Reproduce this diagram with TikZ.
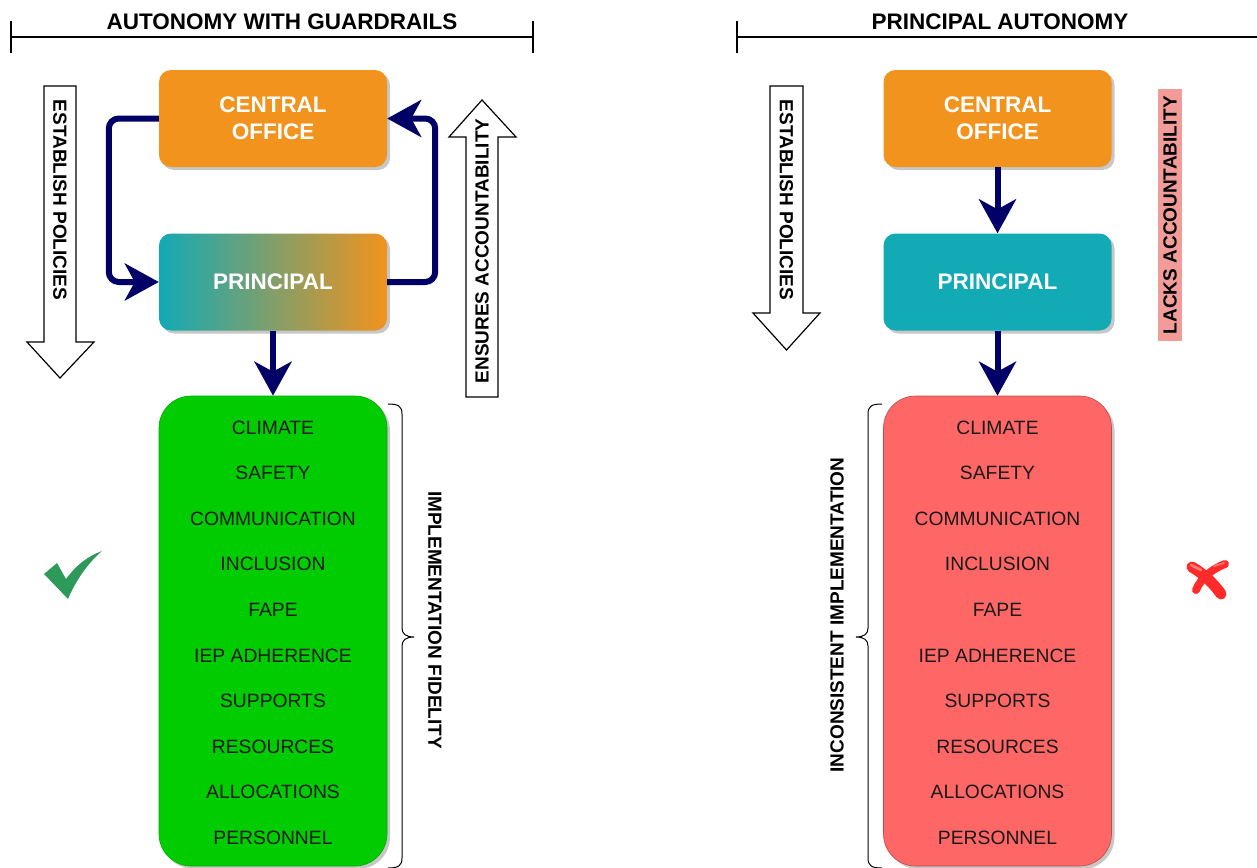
\documentclass[tikz,border=0pt]{standalone}
\usepackage{fontspec}
\setmainfont{Liberation Sans}
\usetikzlibrary{arrows.meta,shadows}
\definecolor{coorange}{HTML}{F2931E}
\definecolor{prteal}{HTML}{12AAB5}
\definecolor{navyc}{HTML}{000066}
\definecolor{goodgreen}{HTML}{00CC00}
\definecolor{badred}{HTML}{FF6666}
\definecolor{pinkbg}{HTML}{F19C99}
\definecolor{checkgreen}{HTML}{2E9A5A}
\definecolor{xred}{HTML}{FF2A2A}
\definecolor{listtext}{HTML}{1A1A1A}
\tikzset{
  boxshadow/.style={drop shadow={shadow xshift=3pt,shadow yshift=-3pt,opacity=0.22,fill=black}},
  topbox/.style={rounded corners=12pt, minimum width=228pt, minimum height=97pt, inner sep=0pt,
    text=white, align=center, font=\fontsize{22.5}{27}\selectfont\bfseries, boxshadow},
  listbox/.style={rounded corners=32pt, minimum width=228pt, minimum height=470pt, inner sep=0pt, boxshadow},
  itemtext/.style={text=listtext, font=\fontsize{19.3}{22}\selectfont, inner sep=0pt},
  vlabel/.style={font=\fontsize{19}{22}\selectfont\bfseries, inner sep=0pt},
  titletext/.style={font=\fontsize{22.5}{26}\selectfont\bfseries, inner sep=0pt},
  conn/.style={draw=navyc, line width=6pt, rounded corners=10pt,
    -{Stealth[length=34pt, width=37pt, inset=10pt]}},
  hollow/.style={draw=black, line width=1.2pt, fill=white, line join=miter},
  bracketline/.style={draw=black, line width=1.3pt},
  bracepath/.style={draw=black, line width=1pt}
}
\begin{document}
\begin{tikzpicture}[x=1pt,y=-1pt]
\useasboundingbox (0,0) rectangle (1257,867);
\fill[white] (0,0) rectangle (1257,867);

% ---------- titles ----------
\draw[bracketline] (11,21) -- (11,53) (11,37) -- (533,37) (533,21) -- (533,53);
\node[titletext] (t1) at (282,22) {AUTONOMY WITH GUARDRAILS};
\draw[bracketline] (737,21) -- (737,53) (737,37) -- (1260,37);
\node[titletext] (t2) at (1000,22) {PRINCIPAL AUTONOMY};

% ---------- left side ----------
\draw[hollow] (44,86) -- (76,86) -- (76,342) -- (94,342) -- (60,378) -- (27,342) -- (44,342) -- cycle;
\node[vlabel, rotate=-90] (ep1) at (60,200) {ESTABLISH POLICIES};

\draw[hollow] (466,397) -- (466,137) -- (449,137) -- (482,100) -- (516,137) -- (498,137) -- (498,397) -- cycle;
\node[vlabel, rotate=90] (ea1) at (482,251) {ENSURES ACCOUNTABILITY};

\node[topbox, fill=coorange] (co1) at (273,118.5) {\raisebox{-2pt}{\parbox{200pt}{\centering CENTRAL\\OFFICE}}};
\node[topbox, left color=prteal, right color=coorange] (pr1) at (273,282) {\raisebox{-1pt}{PRINCIPAL}};
\node[listbox, fill=goodgreen, draw=goodgreen!85!black, line width=0.6pt] (lst1) at (273,631) {};
\foreach \t [count=\i] in {CLIMATE,SAFETY,COMMUNICATION,INCLUSION,FAPE,IEP ADHERENCE,SUPPORTS,RESOURCES,ALLOCATIONS,PERSONNEL}
  \node[itemtext] (ga\i) at (273,{427.5+45.6*(\i-1)}) {\t};

\draw[conn] (co1.west) -- ++(-50,0) |- (pr1.west);
\draw[conn] (pr1.east) -- ++(48,0) |- (co1.east);
\draw[conn] (pr1.south) -- (lst1.north);

\draw[bracepath] (388,404) .. controls (398,404) and (402,406) .. (402,414) -- (402,628)
  .. controls (402,634) and (406,637) .. (414,637) .. controls (406,637) and (402,640) .. (402,646)
  -- (402,858) .. controls (402,866) and (398,868) .. (388,868);
\node[vlabel, rotate=-90] (if1) at (435,620) {IMPLEMENTATION FIDELITY};

\fill[checkgreen] (44,574) -- (57,563) -- (66,579) .. controls (78,563) and (89,556) .. (102,551)
  .. controls (88,563) and (76,580) .. (68,599) -- cycle;

% ---------- right side ----------
\draw[hollow] (770,86) -- (803,86) -- (803,313) -- (820,313) -- (786.5,350) -- (753,313) -- (770,313) -- cycle;
\node[vlabel, rotate=-90] (ep2) at (786.5,200) {ESTABLISH POLICIES};

\node[topbox, fill=coorange] (co2) at (997.5,118.5) {\raisebox{-2pt}{\parbox{200pt}{\centering CENTRAL\\OFFICE}}};
\node[topbox, fill=prteal] (pr2) at (997.5,282) {\raisebox{-1pt}{PRINCIPAL}};
\node[listbox, fill=badred, draw=badred!75!black, line width=0.6pt] (lst2) at (997.5,631) {};
\foreach \t [count=\i] in {CLIMATE,SAFETY,COMMUNICATION,INCLUSION,FAPE,IEP ADHERENCE,SUPPORTS,RESOURCES,ALLOCATIONS,PERSONNEL}
  \node[itemtext] (rb\i) at (997.5,{427.5+45.6*(\i-1)}) {\t};

\draw[conn] (co2.south) -- (pr2.north);
\draw[conn] (pr2.south) -- (lst2.north);

\node[vlabel, rotate=90, fill=pinkbg, minimum width=252pt, minimum height=24pt] (la2) at (1170,215) {LACKS ACCOUNTABILITY};

\draw[bracepath] (882,404) .. controls (872,404) and (868,406) .. (868,414) -- (868,628)
  .. controls (868,634) and (864,637) .. (856,637) .. controls (864,637) and (868,640) .. (868,646)
  -- (868,858) .. controls (868,866) and (872,868) .. (882,868);
\node[vlabel, rotate=90] (inc2) at (837,615) {INCONSISTENT IMPLEMENTATION};

\draw[xred, line width=11pt, line cap=round] (1192,567) .. controls (1204,574) and (1214,584) .. (1221,594);
\draw[xred, line width=8pt, line cap=round] (1225,564) .. controls (1212,569) and (1201,578) .. (1196,590);
\draw[white, opacity=0.4, line width=2.5pt, line cap=round] (1191,565) -- (1201,570);
\draw[white, opacity=0.3, line width=2pt, line cap=round] (1214,566) -- (1224,563);
\end{tikzpicture}
\end{document}
